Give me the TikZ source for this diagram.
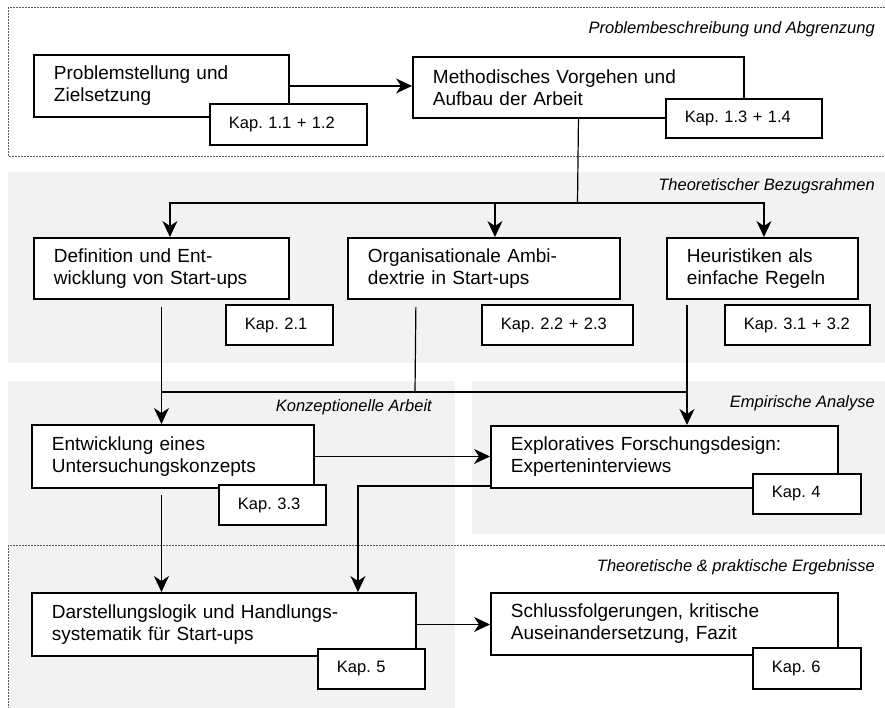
\documentclass[tikz,border=0pt]{standalone}
\usepackage{fontspec}
\setmainfont{Liberation Sans}
\frenchspacing
\usetikzlibrary{arrows.meta}
\definecolor{bggray}{RGB}{242,242,242}
\definecolor{dashgray}{RGB}{90,90,90}

\begin{document}
\begin{tikzpicture}[x=1pt,y=-1pt,
        box/.style={draw,line width=1.9pt,fill=white,anchor=north west,align=left,
            inner xsep=20pt,inner ysep=0pt,text width=#1,minimum height=62pt,
            font=\fontsize{19}{22}\selectfont},
        kap/.style={draw,line width=1.9pt,fill=white,anchor=north west,align=left,
            inner xsep=19pt,inner ysep=0pt,text width=#1,minimum height=40pt,
            font=\fontsize{16.5}{19}\selectfont},
        area/.style={anchor=east,inner sep=0pt,font=\fontsize{16.5}{19}\selectfont\itshape},
        line/.style={line width=1.2pt},
        arr/.style={line width=1.2pt,-{Stealth[length=16pt,width=15pt,inset=5pt]}},
        dashbox/.style={draw=dashgray,line width=0.8pt,dash pattern=on 2pt off 1pt}]
    \useasboundingbox (0,0) rectangle (885,707);
    \clip (0,0) rectangle (885,707);
    % Bereiche
    \fill[bggray] (8,172) rectangle (890,363);
    \fill[bggray] (8,381) rectangle (455,712);
    \fill[bggray] (472,381) rectangle (890,534);
    \draw[dashbox] (8,7) rectangle (890,156);
    \draw[dashbox] (8,545) rectangle (890,712);
    \node[area] (t1) at (875,29) {Problembeschreibung und Abgrenzung};
    \node[area] (t2) at (875,186) {Theoretischer Bezugsrahmen};
    \node[area] (t3) at (432,407) {Konzeptionelle Arbeit};
    \node[area] (t4) at (875,403) {Empirische Analyse};
    \node[area] (t5) at (875,567) {Theoretische \& praktische Ergebnisse};

    % Kapitel
    \node[box=215pt] (A) at (33,54) {Problemstellung und\\Zielsetzung};
    \node[box=291pt,minimum height=61pt] (B) at (412,56) {Methodisches Vorgehen und\\Aufbau der Arbeit};
    \node[box=215pt,minimum height=61pt] (C) at (33,237) {Definition und Ent-\\wicklung von Start-ups};
    \node[box=232pt,minimum height=61pt] (D) at (347,237) {Organisationale Ambi-\\dextrie in Start-ups};
    \node[box=151pt,minimum height=61pt] (E) at (666,237) {Heuristiken als\\einfache Regeln};
    \node[box=242pt,minimum height=63pt] (F) at (31,424) {Entwicklung eines\\Untersuchungskonzepts};
    \node[box=307pt] (G) at (490,425) {Exploratives Forschungsdesign:\\Experteninterviews};
    \node[box=344pt,minimum height=63pt] (H) at (31,592) {Darstellungslogik und Handlungs-\\systematik f\"ur Start-ups};
    \node[box=307pt] (I) at (490,592) {Schlussfolgerungen, kritische\\Auseinandersetzung, Fazit};

    % Verbindungen
    \coordinate (split) at (577.5,203);
    \coordinate (join) at (415,392);
    \coordinate (edrop) at (687,298);
    \draw[arr] (A.east) -- (A.east -| B.west);
    \draw[line] (B.south) -- (split);
    \draw[arr] (split) -| ([xshift=8.5pt]C.north);
    \draw[arr] (split) -| ([xshift=11pt]D.north);
    \draw[arr] (split) -| ([xshift=1.5pt]E.north);
    \draw[arr,shorten <=7pt] (C.south) -- (C.south |- F.north);
    \draw[line,shorten <=7pt] ([xshift=-68pt]D.south) -- (join);
    \draw[arr,shorten <=7pt] (edrop) -- (edrop |- G.north);
    \draw[line] (C.south |- join) -- (edrop |- join);
    \draw[arr] (F.east) -- (F.east -| G.west);
    \draw[arr,shorten <=6pt] (C.south |- F.south) -- (C.south |- H.north);
    \draw[arr] ([yshift=3pt]G.south west) -| ([xshift=134pt]H.north);
    \draw[arr] (H.east) -- (H.east -| I.west);

    % Kapitelnummern
    \node[kap=119pt,minimum height=41pt] (k1) at (209,103) {Kap. 1.1 + 1.2};
    \node[kap=118pt,minimum height=39pt] (k2) at (665,98) {Kap. 1.3 + 1.4};
    \node[kap=69pt] (k3) at (225,304) {Kap. 2.1};
    \node[kap=113pt] (k4) at (481,304) {Kap. 2.2 + 2.3};
    \node[kap=107pt] (k5) at (724,304) {Kap. 3.1 + 3.2};
    \node[kap=69pt] (k6) at (218,484) {Kap. 3.3};
    \node[kap=70pt] (k7) at (752,473) {Kap. 4};
    \node[kap=69pt] (k8) at (317,648) {Kap. 5};
    \node[kap=70pt,minimum height=41pt] (k9) at (752,647) {Kap. 6};
\end{tikzpicture}
\end{document}
